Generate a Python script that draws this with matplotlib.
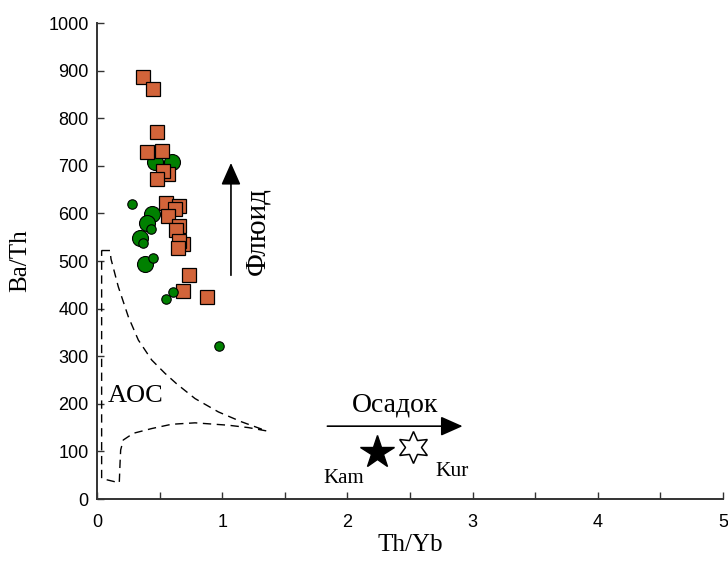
import matplotlib
matplotlib.use("Agg")
import matplotlib.pyplot as plt
from matplotlib.ticker import MultipleLocator

# Orange squares
sq_x = [0.37, 0.447, 0.477, 0.40, 0.52, 0.567, 0.527, 0.477, 0.551, 0.655, 0.62, 0.565,
        0.652, 0.63, 0.69, 0.657, 0.647, 0.737, 0.687, 0.881]
sq_y = [886, 862, 770, 728, 732, 683, 689, 672, 621, 616, 609, 595,
        574, 565, 535, 541, 527, 470, 436, 424]

# Large green circles
gl_x = [0.466, 0.599, 0.437, 0.402, 0.343, 0.383]
gl_y = [707, 707, 599, 579, 548, 494]

# Small green circles
gs_x = [0.282, 0.434, 0.37, 0.447, 0.607, 0.553, 0.972]
gs_y = [620, 567, 538, 506, 434, 420, 321]

# AOC field outline
aoc_x = [0.037, 0.104, 0.112, 0.17, 0.25, 0.33, 0.437, 0.543, 0.636, 0.783, 0.969, 1.156,
         1.355, 1.209, 1.049, 0.783, 0.596, 0.437, 0.29, 0.21, 0.189, 0.184, 0.178,
         0.037, 0.037]
aoc_y = [522, 522, 504, 446, 383, 334, 292, 264, 242, 211, 183, 162,
         143, 150, 155, 160, 157, 148, 138, 124, 103, 75, 34,
         43, 522]

# Reference compositions
kam_x, kam_y = [2.234], [99]
kur_x, kur_y = [2.527], [110]

fig = plt.figure(figsize=(7.28, 5.61), dpi=100)
ax = fig.add_axes([97/728, 1 - 499/561, 626/728, 476/561])

ax.plot(aoc_x, aoc_y, color="black", lw=1.0, ls=(0, (6, 4)), zorder=2)

ax.plot(gl_x, gl_y, "o", ms=11.5, mfc="#008000", mec="black", mew=0.8, zorder=3)
ax.plot(sq_x, sq_y, "s", ms=9.5, mfc="#D2643A", mec="black", mew=0.9, zorder=4)
ax.plot(gs_x, gs_y, "o", ms=6.8, mfc="#008000", mec="black", mew=0.8, zorder=5)

ax.plot(kam_x, kam_y, "*", ms=25, mfc="black", mec="black", zorder=5)
ax.plot(kur_x, kur_y, marker=(6, 1, 0), ms=23, mfc="white", mec="black", mew=1.1,
        ls="none", zorder=5)

serif = ["Liberation Serif", "DejaVu Serif"]

astyle = "-|>,head_length=1.35,head_width=0.6"
ax.annotate("", xy=(1.07, 706), xytext=(1.07, 470),
            arrowprops=dict(arrowstyle=astyle, color="black", lw=1.2,
                            mutation_scale=10, shrinkA=0, shrinkB=0))
ax.annotate("", xy=(2.92, 153), xytext=(1.84, 153),
            arrowprops=dict(arrowstyle=astyle, color="black", lw=1.2,
                            mutation_scale=10, shrinkA=0, shrinkB=0))

ax.text(1.277, 562, "Флюид", rotation=90, ha="center", va="center", fontsize=21, family=serif)
ax.text(2.38, 197, "Осадок", ha="center", va="center", fontsize=20, family=serif)
ax.text(1.973, 44, "Kam", ha="center", va="center", fontsize=15, family=serif)
ax.text(2.835, 57, "Kur", ha="center", va="center", fontsize=15.5, family=serif)
ax.text(0.311, 216, "AOC", ha="center", va="center", fontsize=19, family=serif)

ax.set_xlim(0, 5)
ax.set_ylim(0, 1000)
ax.xaxis.set_major_locator(MultipleLocator(1))
ax.xaxis.set_minor_locator(MultipleLocator(0.5))
ax.yaxis.set_major_locator(MultipleLocator(100))
ax.tick_params(which="both", direction="in", length=5, width=1.0, color="#333333")
ax.tick_params(axis="x", labelsize=13, pad=11)
ax.tick_params(axis="y", labelsize=13, pad=6)
for lab in ax.get_xticklabels() + ax.get_yticklabels():
    lab.set_family(["Liberation Sans", "DejaVu Sans"])

for s in ["top", "right"]:
    ax.spines[s].set_visible(False)
for s in ["left", "bottom"]:
    ax.spines[s].set_linewidth(1.4)
    ax.spines[s].set_color("#333333")

ax.set_xlabel("Th/Yb", fontsize=18, family=serif, labelpad=2)
ax.set_ylabel("Ba/Th", fontsize=18, family=serif, labelpad=12)

fig.savefig("out.png", dpi=100)
